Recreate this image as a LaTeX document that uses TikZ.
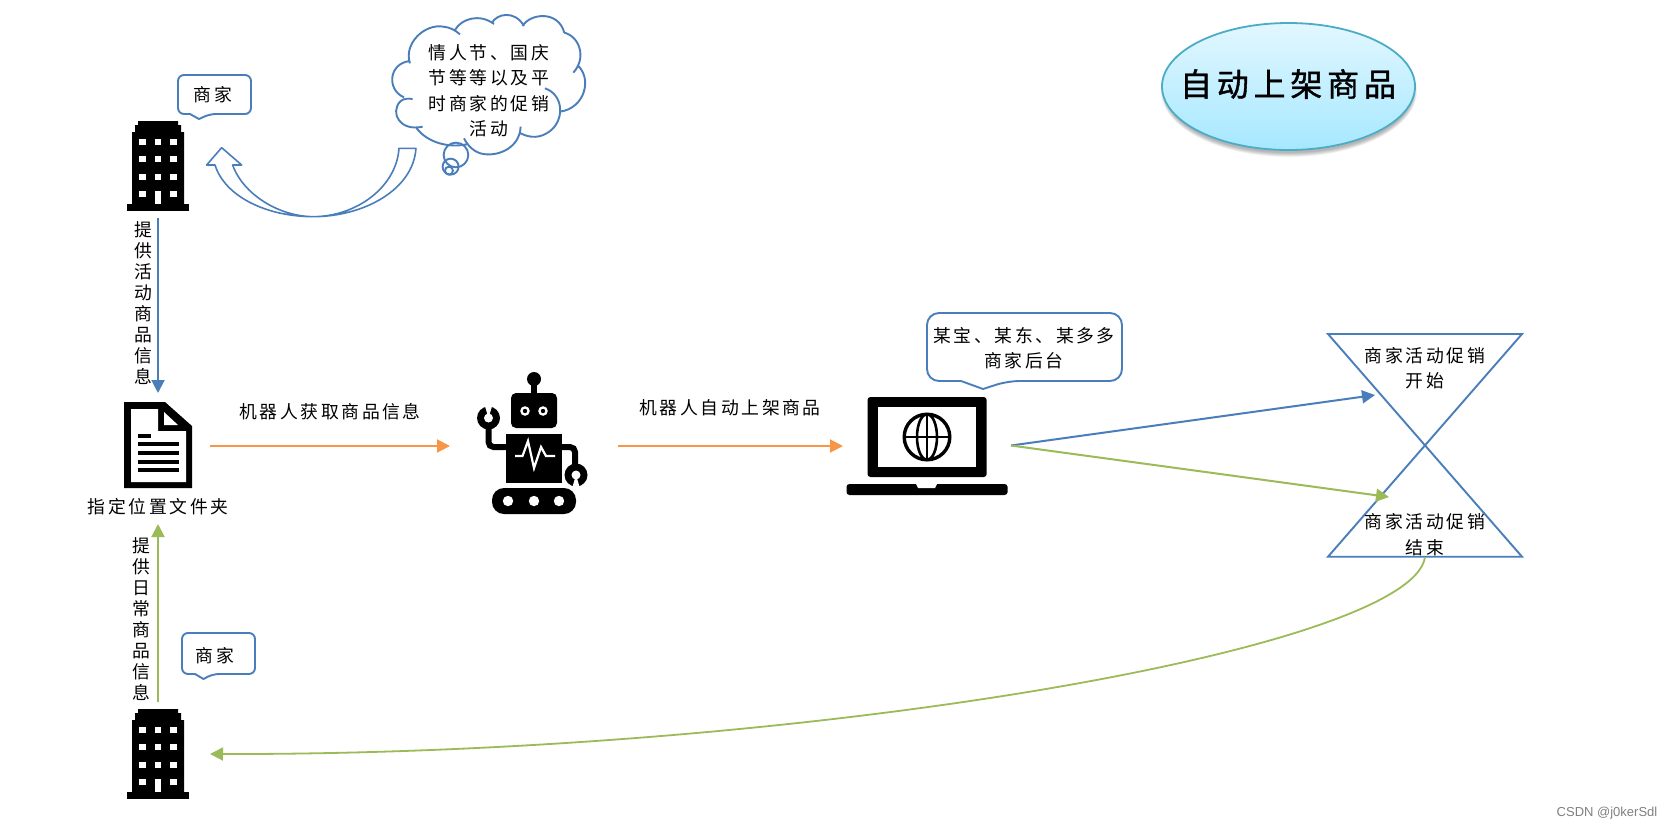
\documentclass[tikz,border=0pt]{standalone}
\usepackage{fontspec}
\usetikzlibrary{arrows.meta,shapes.geometric}
\newfontfamily\cjk[LetterSpace=15]{Noto Sans CJK SC}
\newfontfamily\cjktitle[LetterSpace=15,FakeBold=1.2]{Noto Sans CJK SC}
\setmainfont{Liberation Sans}
\definecolor{bl}{HTML}{4A7EBB}
\definecolor{og}{HTML}{F79646}
\definecolor{gr}{HTML}{9BBB59}
\definecolor{teal}{HTML}{4BACC6}
\definecolor{skytop}{HTML}{E2F7FF}
\definecolor{skybot}{HTML}{A6E8FF}
\tikzset{
  lab/.style={font=\cjk\fontsize{17.8}{25.5}\selectfont,align=center,inner sep=0pt,text=black},
  vlab/.style={font=\cjk\fontsize{17.8}{21}\selectfont,align=center,inner sep=0pt,text=black},
  flow/.style={line width=2pt,-{Triangle[length=13pt,width=13pt]}},
  outline/.style={draw=bl,line width=1.9pt,fill=white,line join=round},
  bldg/.pic={
    \fill[black] (-31,83) rectangle (31,90);
    \fill[black] (-26,83) -- (-26,11) -- (-23,11) -- (-23,4) -- (-20,4) -- (-20,0) -- (20,0) -- (20,4) -- (23,4) -- (23,11) -- (26,11) -- (26,83) -- cycle;
    \foreach \wy in {21,38,56}{\foreach \wx in {-15.3,0,15.3}{
      \fill[white] (\wx-3.3,\wy-3.3) rectangle (\wx+3.3,\wy+3.3);}}
    \fill[white] (-18.6,69.7) rectangle (-12,76.3);
    \fill[white] (12,69.7) rectangle (18.6,76.3);
    \fill[white] (-3.4,70) rectangle (3.4,83);
  }
}
\begin{document}
\begin{tikzpicture}[x=1pt,y=-1pt]
\useasboundingbox (0,0) rectangle (1674,831);
\fill[white] (0,0) rectangle (1674,831);

% title ellipse with soft shadow
\foreach \g in {0,1,...,7}{
  \fill[black,opacity=0.04] (1289,91) ellipse [x radius={128-\g*0.5}, y radius={66-\g*0.6}];
}
\shade[top color=skytop,bottom color=skybot,draw=teal,line width=1.8pt]
  (1288.5,86.5) ellipse [x radius=126.5, y radius=63.5];
\node[font=\cjktitle\fontsize{32}{36}\selectfont,inner sep=0pt] (title) at (1288,84) {自动上架商品};

% buildings
\pic at (158,121) {bldg};
\pic at (158,709) {bldg};
\coordinate (bldAs) at (158,218);
\coordinate (bldBn) at (158,702);
\coordinate (bldBe) at (210,754);

% speech boxes over buildings
\draw[outline,rounded corners=6pt] (178,75) -- (251,75) -- (251,114) -- (210,114) [sharp corners] -- (199,119) -- (190,114) [rounded corners=6pt] -- (178,114) -- cycle;
\node[lab] (m1) at (213,95) {商家};
\draw[outline,rounded corners=6pt] (182,633) -- (255,633) -- (255,674) -- (213,674) [sharp corners] -- (203.5,679) -- (195,674) [rounded corners=6pt] -- (182,674) -- cycle;
\node[lab] (m2) at (215,656) {商家};

% big curved arrow and cloud (in zoomed coordinates)
\begin{scope}[shift={(100,0)},x=0.3333pt,y=-0.3333pt]
  \draw[outline,line width=1.6pt]
    (948,445) .. controls (940,570) and (790,650) .. (640,650)
    .. controls (500,650) and (375,590) .. (345,495)
    -- (320,495) -- (365,443) -- (425,495) -- (398,495)
    .. controls (430,585) and (540,650) .. (640,650)
    .. controls (770,650) and (890,560) .. (897,445) -- cycle;
  \draw[outline]
    (930,190) .. controls (910,130) and (975,70) .. (1030,80)
    .. controls (1050,82) and (1065,90) .. (1080,103)
    (1065,90) .. controls (1085,55) and (1140,40) .. (1182,72)
    (1175,70) .. controls (1190,40) and (1245,30) .. (1272,78)
    (1268,78) .. controls (1290,40) and (1375,30) .. (1393,98)
    (1393,98) .. controls (1440,110) and (1460,175) .. (1420,218)
    (1432,195) .. controls (1478,235) and (1455,325) .. (1380,335)
    (1335,265) .. controls (1395,285) and (1395,370) .. (1340,400)
    .. controls (1310,418) and (1280,410) .. (1258,398)
    (1262,380) .. controls (1260,440) and (1200,470) .. (1150,462)
    .. controls (1125,458) and (1105,440) .. (1092,415)
    (1105,432) .. controls (1050,445) and (985,430) .. (950,385)
    (968,380) .. controls (900,395) and (870,340) .. (900,305)
    .. controls (910,295) and (925,295) .. (938,297)
    (912,292) .. controls (860,270) and (865,190) .. (930,183);
  \draw[outline,fill=none] (1068,465) circle [radius=37];
  \draw[outline,fill=none] (1052,500) circle [radius=24];
  \draw[outline,fill=none] (1047,512) circle [radius=12];
\end{scope}
\node[lab] (cloudtext) at (489,90.5) {情人节、国庆\\节等等以及平\\时商家的促销\\活动};

% document icon
\fill[black] (124,402) -- (165,402) -- (192,426) -- (192,488) -- (124,488) -- cycle;
\fill[white] (131,409) -- (158,409) -- (158,431) -- (186,431) -- (186,482) -- (131,482) -- cycle;
\fill[white] (164,412) -- (178,425) -- (164,425) -- cycle;
\fill[black] (137.5,434) rectangle (151.4,438);
\foreach \ly in {442,451,459.5,468}{\fill[black] (137.5,\ly) rectangle (178.6,\ly+4.2);}
\coordinate (docN) at (158,393);
\coordinate (docS) at (158,524);
\coordinate (docE) at (210,446);
\node[lab] (doclabel) at (158,507) {指定位置文件夹};

% vertical flows
\draw[flow,bl] (bldAs) -- (docN);
\node[vlab] (vA) at (143,303) {提\\供\\活\\动\\商\\品\\信\\息};
\draw[flow,gr] (bldBn) -- (docS);
\node[vlab] (vB) at (141,619) {提\\供\\日\\常\\商\\品\\信\\息};

% robot
\fill[black] (534,379) circle [radius=7];
\fill[black] (531,380) rectangle (537,395);
\fill[black,rounded corners=5pt] (511,393) rectangle (557,428);
\foreach \ex in {525,543}{
  \fill[white] (\ex,411) circle [radius=4.8];
  \fill[black] (\ex,411) circle [radius=2.2];
}
\fill[black] (506,434) rectangle (562,483);
\draw[white,line width=2.2pt,line join=miter] (515,456) -- (522.5,456) -- (528,441) -- (534,468) -- (541,447) -- (546,456) -- (555,456);
\fill[black,rounded corners=12pt] (492,488) rectangle (576,514);
\foreach \wx in {508,534,559}{\fill[white] (\wx,501) circle [radius=5.2];}
\draw[black,line width=6pt,rounded corners=5pt] (507,447) -| (488.5,426);
\draw[black,line width=6pt,rounded corners=5pt] (561,447) -| (575,468);
\fill[black] (488.5,418) circle [radius=11.5];
\fill[white] (488.5,418) circle [radius=4.5];
\fill[white] (488.5,418) -- (484,403) -- (493,403) -- cycle;
\fill[black] (576,475) circle [radius=11.5];
\fill[white] (576,475) circle [radius=4.5];
\fill[white] (576,475) -- (571.5,490) -- (580.5,490) -- cycle;
\coordinate (robW) at (450,446);
\coordinate (robE) at (618,446);

\draw[flow,og] (docE) -- (robW);
\node[lab] (tA) at (330,412) {机器人获取商品信息};

% laptop
\fill[black,rounded corners=3pt] (867.5,397) -- (986.7,397) -- (986.7,477) -- (867.5,477) -- cycle;
\fill[white] (878,407) rectangle (976,467);
\draw[black,line width=3.4pt] (927,437) circle [radius=22.8];
\draw[black,line width=2.6pt] (927,437) ellipse [x radius=10, y radius=22.8];
\draw[black,line width=2.6pt] (904.5,437) -- (949.5,437) (927,414.5) -- (927,459.5);
\fill[black,rounded corners=3pt] (846.5,484) -- (1007.6,484) -- (1007.6,495) -- (846.5,495) -- cycle;
\fill[white] (916,484) -- (937,484) -- (935,488) -- (918,488) -- cycle;
\coordinate (lapW) at (843,446);
\coordinate (lapE) at (1011,445.5);

\draw[flow,og] (robE) -- (lapW);
\node[lab] (tB) at (730,408) {机器人自动上架商品};

% laptop callout
\draw[outline,rounded corners=12pt] (927,313) -- (1122,313) -- (1122,381) -- (1007.6,381) [sharp corners] -- (983,389) -- (961,381) [rounded corners=12pt] -- (927,381) -- cycle;
\node[lab] (shops) at (1024,348) {某宝、某东、某多多\\商家后台};

% hourglass
\draw[bl,line width=1.9pt,fill=none,line join=miter] (1328,334) -- (1522,334) -- (1328,556.7) -- (1522,556.7) -- cycle;
\node[lab] (start) at (1425,368) {商家活动促销\\开始};
\node[lab] (end) at (1425,534.5) {商家活动促销\\结束};
\coordinate (hgT) at (1375,395);
\coordinate (hgB) at (1389,497);
\coordinate (hgS) at (1425,557);

\draw[flow,bl] (lapE) -- (hgT);
\draw[flow,gr] (lapE) -- (hgB);
\draw[flow,gr,line width=1.8pt] (hgS) .. controls (1412,650) and (800,755) .. (bldBe);

\node[font=\fontsize{13}{15}\selectfont,text=black!50,inner sep=0pt] (wm) at (1607,813) {CSDN @j0kerSdl};
\end{tikzpicture}
\end{document}
